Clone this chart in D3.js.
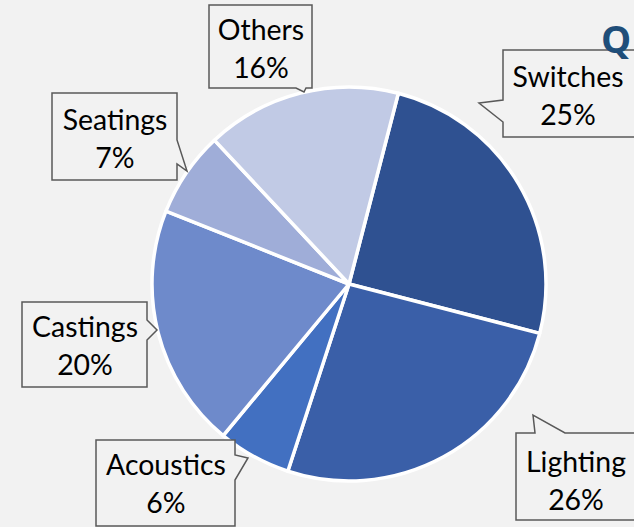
<!DOCTYPE html>
<html>
<head>
<meta charset="utf-8">
<script src="https://cdnjs.cloudflare.com/ajax/libs/d3/7.8.5/d3.min.js"></script>
<style>
  html, body { margin: 0; padding: 0; background: #F2F2F2; overflow: hidden; }
  svg { display: block; }
</style>
</head>
<body>
<svg id="chart" width="634" height="527"></svg>
<script>
// ---- data ----
const categories = ["Switches", "Lighting", "Acoustics", "Castings", "Seatings", "Others"];
const values = [25, 26, 6, 20, 7, 16];
const percentLabels = ["25%", "26%", "6%", "20%", "7%", "16%"];
const colors = ["#2F5191", "#3A5FA8", "#4270C1", "#6E8ACB", "#9FADD8", "#C1CAE5"];

// ---- layout (annotation boxes, not data) ----
const boxes = {
  Switches: { pts: [[503,50],[640,50],[640,137],[503,137],[503,122],[479,103],[503,100]], cx: 568, y1: 87 },
  Lighting: { pts: [[516,433],[535,433],[533,415],[565,433],[640,433],[640,520],[516,520]], cx: 576, y1: 472 },
  Acoustics:{ pts: [[96,440],[235,440],[235,455],[248,458],[235,480],[235,526],[96,526]], cx: 166, y1: 475 },
  Castings: { pts: [[22,302],[147,302],[147,320],[157,330],[147,340],[147,387],[22,387]], cx: 85, y1: 337 },
  Seatings: { pts: [[52,93],[177,93],[177,140],[187,171],[177,164],[177,180],[52,180]], cx: 115, y1: 130 },
  Others:   { pts: [[209,5],[312,5],[312,88],[306,88],[304,92],[296,88],[209,88]], cx: 261, y1: 40 }
};

const svg = d3.select("#chart");
const W = 634, H = 527;
svg.append("rect").attr("width", W).attr("height", H).attr("fill", "#F2F2F2");

const cx = 349, cy = 284, R = 197;
const startDeg = 14.5;

const pie = d3.pie().sort(null).value(d => d.v)
  .startAngle(startDeg * Math.PI / 180)
  .endAngle((startDeg + 360) * Math.PI / 180);
const arc = d3.arc().innerRadius(0).outerRadius(R);

const data = categories.map((c, i) => ({ c, v: values[i], p: percentLabels[i], col: colors[i] }));
const arcs = pie(data);

const g = svg.append("g").attr("transform", `translate(${cx},${cy})`);
g.selectAll("path").data(arcs).enter().append("path")
  .attr("d", arc)
  .attr("fill", d => d.data.col)
  .attr("stroke", "#FFFFFF")
  .attr("stroke-width", 3.5)
  .attr("stroke-linejoin", "round");

// font size fitting to match reference text widths
const fontFam = "Lato, 'Open Sans', sans-serif";
const probe = svg.append("text").attr("font-family", fontFam).attr("font-size", 100).text("Switches");
const wProbe = probe.node().getComputedTextLength();
probe.remove();
const fs = Math.max(20, Math.min(36, 111 / wProbe * 100));
const lineGap = 38;

const line = d3.line();
const lab = svg.append("g");
data.forEach(d => {
  const b = boxes[d.c];
  lab.append("path")
    .attr("d", line(b.pts) + "Z")
    .attr("fill", "#F2F2F2")
    .attr("stroke", "#595959")
    .attr("stroke-width", 1.5)
    .attr("stroke-linejoin", "miter");
  lab.append("text")
    .attr("x", b.cx).attr("y", b.y1)
    .attr("text-anchor", "middle")
    .attr("font-family", fontFam)
    .attr("font-size", fs)
    .attr("fill", "#000000")
    .text(d.c);
  lab.append("text")
    .attr("x", b.cx).attr("y", b.y1 + lineGap)
    .attr("text-anchor", "middle")
    .attr("font-family", fontFam)
    .attr("font-size", fs)
    .attr("fill", "#000000")
    .text(d.p);
});

// Title fragment (clipped at right edge), drawn above the Switches box edge
svg.append("text")
  .attr("x", 601).attr("y", 53)
  .attr("font-family", "'Open Sans', Lato, sans-serif")
  .attr("font-weight", "bold")
  .attr("font-size", 38)
  .attr("fill", "#1F4E79")
  .text("Q");
</script>
</body>
</html>
